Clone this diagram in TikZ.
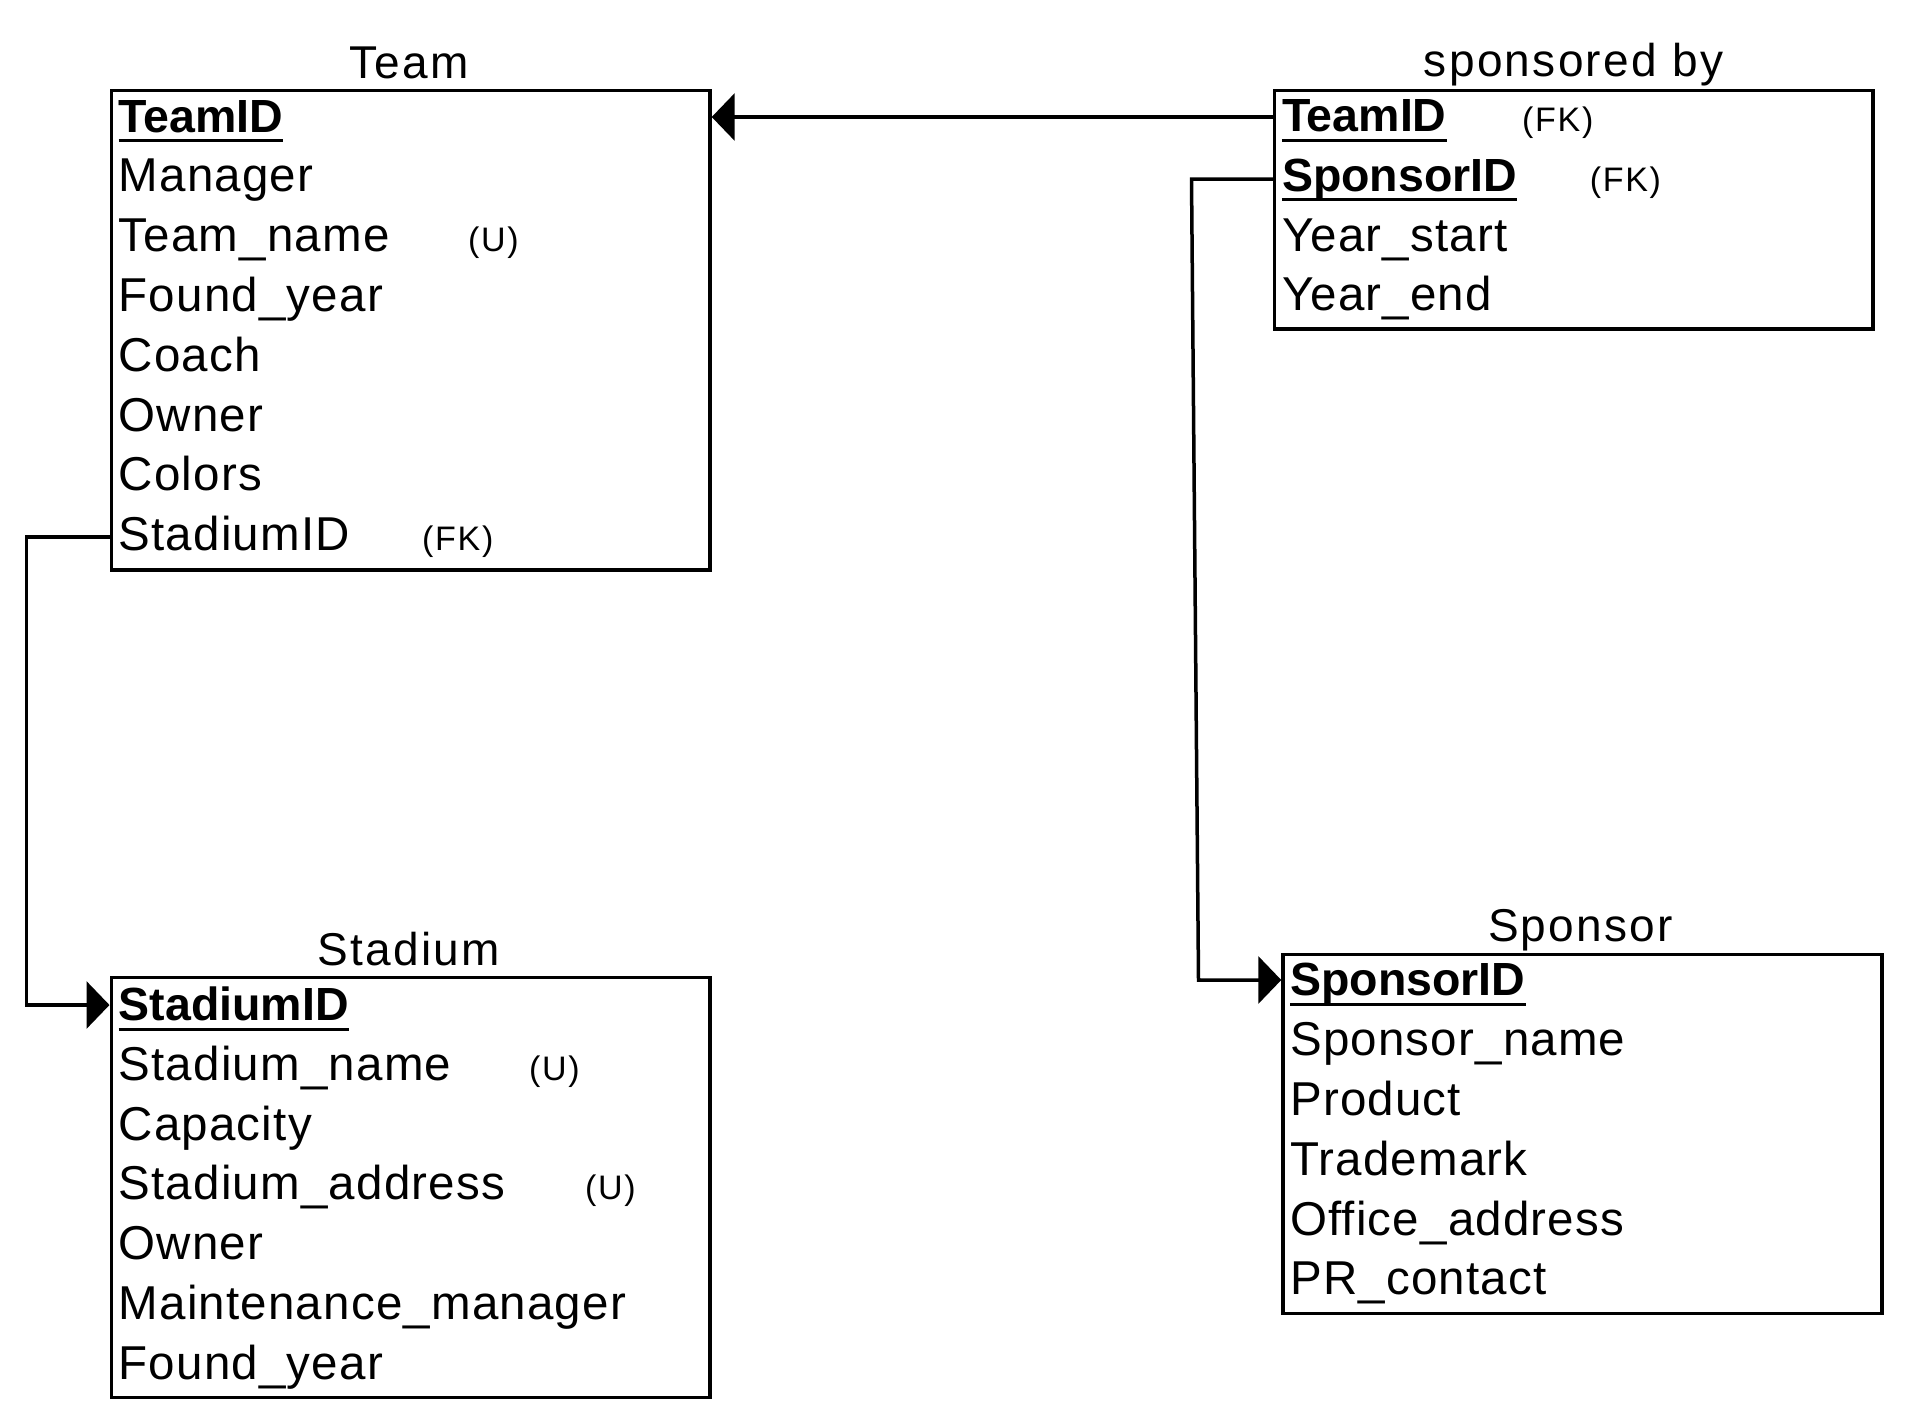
\documentclass[tikz,border=0pt]{standalone}
\usepackage{fontspec}
\setmainfont{Liberation Sans}
\usetikzlibrary{arrows.meta}
\newfontfamily\lsp[LetterSpace=2.5]{Liberation Sans}
\newfontfamily\lst[LetterSpace=5]{Liberation Sans}
\newfontfamily\lsn{Liberation Sans}
\newcommand\fldfont{\lsp\fontsize{47.5}{55}\selectfont}
\newcommand\ttlfont{\lst\fontsize{46}{55}\selectfont}
\newcommand\keyfont{\lsn\bfseries\fontsize{46.5}{55}\selectfont}
\newcommand\tagfont{\lst\fontsize{34}{40}\selectfont}
\tikzset{
  tbl/.style={draw, line width=3.5pt, inner sep=0pt, anchor=north west},
  fld/.style={inner sep=0pt, anchor=base west, font=\fldfont},
  keyfld/.style={inner sep=0pt, anchor=base west, font=\keyfont},
  tag/.style={inner sep=0pt, anchor=base west, font=\tagfont},
  ttl/.style={inner sep=0pt, anchor=base, font=\ttlfont},
  ul/.style={line width=3pt},
  conn/.style={line width=3.5pt},
  tipr/.style={-{Triangle[length=23pt,width=47pt]}},
}
\begin{document}
\begin{tikzpicture}[x=1pt,y=-1pt]
\useasboundingbox (0,0) rectangle (1908,1424);
% boxes
\node[tbl, minimum width=598.7pt, minimum height=479.4pt] (team) at (109.5,88.8) {};
\node[tbl, minimum width=598.6pt, minimum height=238.5pt] (sb) at (1272.8,88.8) {};
\node[tbl, minimum width=598.7pt, minimum height=419.8pt] (st) at (109.5,975.9) {};
\node[tbl, minimum width=598.7pt, minimum height=358.9pt] (sp) at (1281.3,952.8) {};
% titles
\node[ttl] (teamT) at (408.9,78.5) {Team};
\node[ttl] (sbT) at (1573.5,76.6) {sponsored by};
\node[ttl] (stT) at (408.9,965.8) {Stadium};
\node[ttl] (spT) at (1580.6,941.5) {Sponsor};
% Team fields
\node[keyfld] (tk1) at (118.5,132.0) {TeamID};
\node[fld] (tk2) at (118.5,191.8) {Manager};
\node[fld] (tk3) at (118.5,251.6) {Team\_name};
\node[fld] (tk4) at (118.5,311.4) {Found\_year};
\node[fld] (tk5) at (118.5,371.2) {Coach};
\node[fld] (tk6) at (118.5,431.0) {Owner};
\node[fld] (tk7) at (118.5,490.8) {Colors};
\node[fld] (tk8) at (118.5,550.6) {StadiumID};
\node[tag] (tg3) at (468,251.6) {(U)};
\node[tag] (tg8) at (422,550.6) {(FK)};
% sponsored by fields
\node[keyfld] (sbk1) at (1281.8,131.5) {TeamID};
\node[keyfld] (sbk2) at (1281.8,191.3) {SponsorID};
\node[fld] (sbk3) at (1281.8,251.1) {Year\_start};
\node[fld] (sbk4) at (1281.8,310.9) {Year\_end};
\node[tag] (sbg1) at (1522,131.5) {(FK)};
\node[tag] (sbg2) at (1589.6,191.3) {(FK)};
% Stadium fields
\node[keyfld] (stk1) at (118.5,1020.5) {StadiumID};
\node[fld] (stk2) at (118.5,1080.3) {Stadium\_name};
\node[fld] (stk3) at (118.5,1140.1) {Capacity};
\node[fld] (stk4) at (118.5,1199.9) {Stadium\_address};
\node[fld] (stk5) at (118.5,1259.7) {Owner};
\node[fld] (stk6) at (118.5,1319.5) {Maintenance\_manager};
\node[fld] (stk7) at (118.5,1379.3) {Found\_year};
\node[tag] (stg2) at (529,1080.3) {(U)};
\node[tag] (stg4) at (585,1199.9) {(U)};
% Sponsor fields
\node[keyfld] (spk1) at (1290,995.8) {SponsorID};
\node[fld] (spk2) at (1290,1055.6) {Sponsor\_name};
\node[fld] (spk3) at (1290,1115.4) {Product};
\node[fld] (spk4) at (1290,1175.2) {Trademark};
\node[fld] (spk5) at (1290,1235.0) {Office\_address};
\node[fld] (spk6) at (1290,1294.8) {PR\_contact};
% underlines of keys
\foreach \k in {tk1,sbk1,sbk2,stk1,spk1}{
  \draw[ul] ([yshift=-8.5pt]\k.base west) -- ([yshift=-8.5pt]\k.base east);
}
% bend points
\coordinate (rowA) at (1191.5,117);
\coordinate (bendA) at (1191.5,179);
\coordinate (bendB) at (1198.5,980);
\coordinate (bendC) at (26.5,537);
\coordinate (bendD) at (26.5,1005);
% connectors
\draw[conn, tipr] (sb.west |- rowA) -- (team.east |- rowA);
\draw[conn, tipr] (sb.west |- bendA) -- (bendA) -- (bendB) -- (sp.west |- bendB);
\draw[conn, tipr] (team.west |- bendC) -- (bendC) -- (bendD) -- (st.west |- bendD);
\end{tikzpicture}
\end{document}
